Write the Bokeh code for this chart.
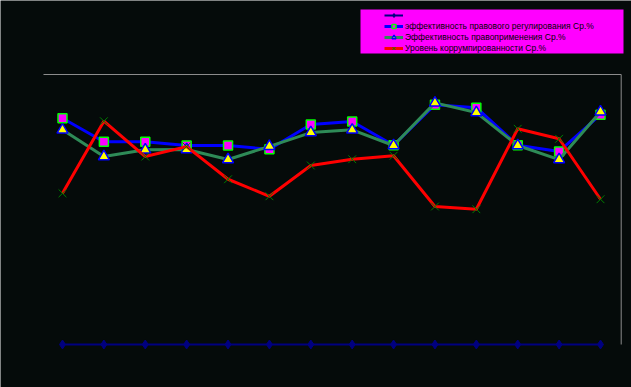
from bokeh.plotting import figure
from bokeh.models import Range1d, Legend, LegendItem, BoxAnnotation
from bokeh.embed import file_html
from bokeh.resources import INLINE

# ---- data ----
idx = list(range(1, 15))
zero_series = [0] * 14
regulation = [83.8, 75.1, 75.1, 73.7, 73.7, 72.3, 81.5, 82.6, 73.8, 88.8, 87.7, 73.8, 71.5, 85.1]
enforcement = [79.5, 69.6, 72.1, 72.2, 68.5, 73.4, 78.5, 79.5, 73.7, 89.5, 85.9, 73.7, 68.5, 86.2]
corruption = [56.0, 82.7, 69.6, 73.3, 61.2, 54.9, 66.3, 68.6, 69.9, 51.1, 50.1, 79.9, 76.2, 53.8]
labels = [
    " ",
    "эффективность правового регулирования Ср.%",
    "Эффективность правоприменения Ср.%",
    "Уровень коррумпированности Ср.%",
]

BG = "#050b0a"

p = figure(
    output_backend="svg", toolbar_location=None,
    width=631, height=387,
    min_border_left=0, min_border_right=0, min_border_top=0, min_border_bottom=0,
    x_range=Range1d(-0.498, 14.749), y_range=Range1d(-15.93, 127.41),
    x_axis_location=None, y_axis_location=None,
    background_fill_color=BG, border_fill_color=BG,
)
p.outline_line_color = None
p.xgrid.visible = False
p.ygrid.visible = False

# partial plot-area frame (top and right)
p.segment(x0=[0.541, 14.5], y0=[100, 0], x1=[14.5, 14.5], y1=[100, 100],
          line_color="#8c8c8c", line_width=1)

l0 = p.line(idx, zero_series, line_color="#000080", line_width=2)
m0 = p.scatter(idx, zero_series, marker="diamond", size=9, fill_color="#000080", line_color="#000080")

l1 = p.line(idx, regulation, line_color="#0000ff", line_width=3)
m1 = p.scatter(idx, regulation, marker="square", size=9, fill_color="#ff00ff",
               line_color="#00ff00", line_width=1.5)

l2 = p.line(idx, enforcement, line_color="#2e8b57", line_width=3)
m2 = p.scatter(idx, enforcement, marker="triangle", size=11, fill_color="#ffff00",
               line_color="#0000ff", line_width=1.5)

l3 = p.line(idx, corruption, line_color="#ff0000", line_width=3)
m3 = p.scatter(idx, corruption, marker="x", size=11, line_color="#008000", line_width=1)

box = BoxAnnotation(left=360, right=623, top=9, bottom=53,
                    left_units="canvas", right_units="canvas",
                    top_units="canvas", bottom_units="canvas",
                    fill_color="#ff00ff", fill_alpha=1, line_color=None)
p.add_layout(box)

legend = Legend(
    items=[
        LegendItem(label=labels[0], renderers=[l0, m0]),
        LegendItem(label=labels[1], renderers=[l1, m1]),
        LegendItem(label=labels[2], renderers=[l2, m2]),
        LegendItem(label=labels[3], renderers=[l3, m3]),
    ],
    location=(384, 334),
    background_fill_alpha=0, border_line_color=None,
    padding=1, spacing=1, glyph_height=10, glyph_width=19, label_height=10,
    label_standoff=2, margin=0,
    label_text_font="Liberation Sans", label_text_font_size="8.5px",
    label_text_color="#000000",
)
p.add_layout(legend)

open("out.html", "w").write(file_html(p, INLINE))
